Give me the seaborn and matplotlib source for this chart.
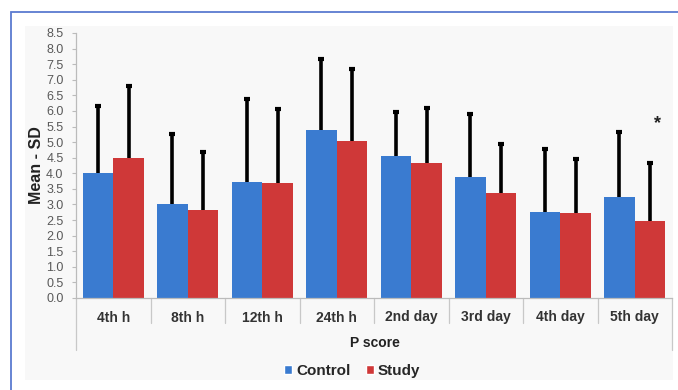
import matplotlib
matplotlib.use("Agg")
import matplotlib.pyplot as plt
import seaborn as sns
import pandas as pd
import numpy as np
from matplotlib.patches import Rectangle
from matplotlib.lines import Line2D

categories = ["4th h", "8th h", "12th h", "24th h", "2nd day", "3rd day", "4th day", "5th day"]
control_mean = [4.00, 3.01, 3.73, 5.38, 4.54, 3.89, 2.77, 3.25]
control_sd = [2.15, 2.25, 2.66, 2.30, 1.43, 2.01, 2.01, 2.06]
study_mean = [4.49, 2.83, 3.69, 5.04, 4.32, 3.36, 2.72, 2.48]
study_sd = [2.31, 1.85, 2.38, 2.30, 1.76, 1.58, 1.74, 1.86]
groups = ["Control", "Study"]
yticks = [0.0, 0.5, 1.0, 1.5, 2.0, 2.5, 3.0, 3.5, 4.0, 4.5, 5.0, 5.5, 6.0, 6.5, 7.0, 7.5, 8.0, 8.5]
star_category = "5th day"
star_value = 5.58

df = pd.DataFrame({
    "cat": categories * 2,
    "group": ["Control"] * len(categories) + ["Study"] * len(categories),
    "mean": control_mean + study_mean,
    "sd": control_sd + study_sd,
})

sns.set_theme(style="white")
plt.rcParams["font.family"] = ["Liberation Sans", "DejaVu Sans"]

W, H = 678, 390
fig = plt.figure(figsize=(W / 100, H / 100), dpi=100)
fig.patch.set_facecolor("white")

# light gray panel and blue frame
fig.patches.append(Rectangle((25 / W, 1 - 380 / H), (673 - 25) / W, (380 - 26) / H,
                             transform=fig.transFigure, facecolor="#f8f8f8", edgecolor="none", zorder=-5))
fig.patches.append(Rectangle((10.5 / W, -0.1), 1.2, 1 - 12 / H + 0.1,
                             transform=fig.transFigure, facecolor="none", edgecolor="#5b7bd0",
                             linewidth=1.3, zorder=-4))

ax = fig.add_axes([76 / W, 1 - 298 / H, (672 - 76) / W, (298 - 33) / H])
ax.set_facecolor("none")

palette = {"Control": "#3a7bd0", "Study": "#cf3838"}
sns.barplot(data=df, x="cat", y="mean", hue="group", order=categories, hue_order=groups,
            palette=palette, width=0.82, gap=0, saturation=1, errorbar=None, ax=ax,
            legend=False, zorder=2, linewidth=0)

# upper error bars from bar positions
for container, g in zip(ax.containers, groups):
    sub = df[df["group"] == g].set_index("cat").loc[categories]
    xs = np.array([p.get_x() + p.get_width() / 2 for p in container.patches])
    ys = np.array([p.get_height() for p in container.patches])
    tops = ys + sub["sd"].values
    ax.errorbar(xs, ys, yerr=[np.zeros(len(xs)), sub["sd"].values], fmt="none",
                ecolor="black", elinewidth=2.6, capsize=0, zorder=3)
    ax.plot(xs, tops, ls="none", marker="_", ms=5, mew=3, color="black", zorder=3)

# significance star
ci = categories.index(star_category)
star_x = ax.containers[1].patches[ci].get_x() + ax.containers[1].patches[ci].get_width() * 0.75
ax.text(star_x, star_value, "*", ha="center", va="center", fontsize=13, fontweight="bold", color="#222222")

ax.set_xlim(-0.5, len(categories) - 0.5)
ax.set_ylim(0, 8.5)
ax.set_yticks(yticks)
ax.set_yticklabels([f"{t:.1f}" for t in yticks], color="#595959", fontsize=9)
ax.tick_params(axis="y", length=3, width=0.8, color="#bbbbbb", pad=6, left=True)
ax.tick_params(axis="x", length=0, pad=9)
for lab in ax.get_xticklabels():
    lab.set_fontweight("bold")
    lab.set_fontsize(10)
    lab.set_color("#333333")

for s in ["top", "right"]:
    ax.spines[s].set_visible(False)
ax.spines["left"].set_color("#bbbbbb")
ax.spines["left"].set_linewidth(0.9)
ax.spines["bottom"].set_color("#bbbbbb")
ax.spines["bottom"].set_linewidth(0.9)

# category separators below axis
trans = ax.get_xaxis_transform()
for k in range(len(categories) + 1):
    xb = k - 0.5
    low = -(350 - 298) / (298 - 33) if k in (0, len(categories)) else -(323 - 298) / (298 - 33)
    ax.add_line(Line2D([xb, xb], [0, low], transform=trans, color="#c8c8c8", linewidth=0.9, clip_on=False))

ax.set_ylabel("Mean - SD", fontsize=11.5, fontweight="bold", color="#222222", labelpad=1.5)
ax.set_xlabel("")
fig.text(375 / W, 1 - 343 / H, "P score", ha="center", va="center", fontsize=10, fontweight="bold", color="#222222")

handles = [Rectangle((0, 0), 1, 1, facecolor=palette[g]) for g in groups]
fig.legend(handles, groups, loc="center", bbox_to_anchor=(352 / W, 1 - 371 / H), ncol=2, frameon=False,
           handlelength=0.55, handleheight=0.55, handletextpad=0.25, columnspacing=1.0,
           prop={"weight": "bold", "size": 11})

fig.savefig("out.png", dpi=100)
